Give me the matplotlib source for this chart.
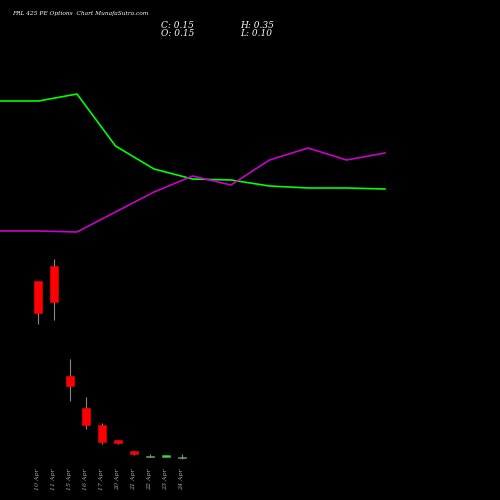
import matplotlib
matplotlib.use("Agg")
import matplotlib.pyplot as plt

# candle data (10 Apr .. 24 Apr)
dates = ["10 Apr", "11 Apr", "15 Apr", "16 Apr", "17 Apr", "20 Apr", "21 Apr", "22 Apr", "23 Apr", "24 Apr"]
opens = [9.0, 9.75, 4.25, 2.65, 1.8, 1.05, 0.5, 0.2, 0.2, 0.15]
closes = [7.4, 7.95, 3.75, 1.8, 0.95, 0.9, 0.35, 0.25, 0.3, 0.15]
highs = [9.0, 10.1, 5.1, 3.2, 1.9, 1.05, 0.5, 0.35, 0.3, 0.35]
lows = [6.85, 7.05, 3.0, 1.6, 0.85, 0.85, 0.3, 0.2, 0.2, 0.10]

# indicator lines (screen-like units, top = 0)
green_line = [101, 101, 94, 146, 169, 179, 180, 186, 188, 188, 189]
purple_line = [231, 231, 232, 212, 192, 176, 185, 160, 148, 160, 153]

fig = plt.figure(figsize=(5, 5), dpi=100, facecolor="black")
ax = fig.add_axes([0, 0, 1, 1], facecolor="black")
ax.set_xlim(-2.375, 28.875)
# price p -> pixel y = 461 - p/0.05
ax.set_ylim((461 - 500) * 0.05, 461 * 0.05)
ax.axis("off")

for i in range(len(dates)):
    up = closes[i] >= opens[i]
    col = "#00ff00" if up else "#ff0000"
    ax.vlines(i, lows[i], highs[i], color="#888888", lw=0.8, zorder=1)
    lo, hi = min(opens[i], closes[i]), max(opens[i], closes[i])
    h = max(hi - lo, 0.06)
    ax.bar(i, h, bottom=lo, width=0.56, color=col, edgecolor="#888888" if up else col,
           lw=0.4, zorder=2)
    ax.text(i, (461 - 468) * 0.05, dates[i], rotation=90, ha="center", va="top",
            color="#aaaaaa", fontsize=4.5, family="DejaVu Serif", style="italic")

ax2 = fig.add_axes([0, 0, 1, 1], facecolor="none")
ax2.set_xlim(0, 500 / 38.5)
ax2.set_ylim(500, 0)
ax2.axis("off")
xs = list(range(len(green_line)))
ax2.plot(xs, green_line, color="#00ff00", lw=1.2)
ax2.plot(xs, purple_line, color="#cc00cc", lw=1.2)

hdr = dict(color="white", fontsize=6.5, family="DejaVu Serif", style="italic", va="center")
fig.text(0.024, 0.972, "FRL 425 PE Options  Chart MunafaSutra.com", color="white",
         fontsize=4.2, family="DejaVu Serif", style="italic", va="center")
fig.text(0.322, 0.95, "C: 0.15", **hdr)
fig.text(0.322, 0.934, "O: 0.15", **hdr)
fig.text(0.48, 0.95, "H: 0.35", **hdr)
fig.text(0.48, 0.934, "L: 0.10", **hdr)

fig.savefig("out.png", dpi=100, facecolor="black")
